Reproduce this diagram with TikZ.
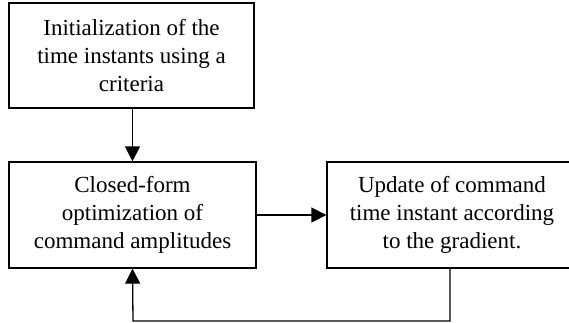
\documentclass[tikz,border=0pt]{standalone}
\usepackage{fontspec}
\setmainfont{Liberation Serif}
\usetikzlibrary{arrows.meta}
\begin{document}
\begin{tikzpicture}[x=1pt,y=-1pt,
  box/.style={draw, line width=1.3pt, inner sep=0pt, align=center, font=\fontsize{23}{28}\selectfont},
  arr/.style={line width=1.3pt, -{Triangle[length=15pt,width=15pt]}}]
\clip (0,0) rectangle (569,322);
\node[box, minimum width=245pt, minimum height=105pt] (b1) at (131.5,55.5) {Initialization of the\\time instants using a\\criteria};
\node[box, minimum width=247pt, minimum height=106pt] (b2) at (132.5,215) {Closed-form\\optimization of\\command amplitudes};
\node[box, minimum width=250pt, minimum height=106pt] (b3) at (452,215) {Update of command\\time instant according\\to the gradient.};
\coordinate (c1) at (450,321);
\coordinate (c2) at (133,321);
\draw[arr] (b1.south -| b2.north) -- (b2.north);
\draw[arr] (b2.east) -- (b3.west);
\draw[arr] (b3.south -| c1) -- (c1) -- (c2) -- (b2.south);
\end{tikzpicture}
\end{document}
